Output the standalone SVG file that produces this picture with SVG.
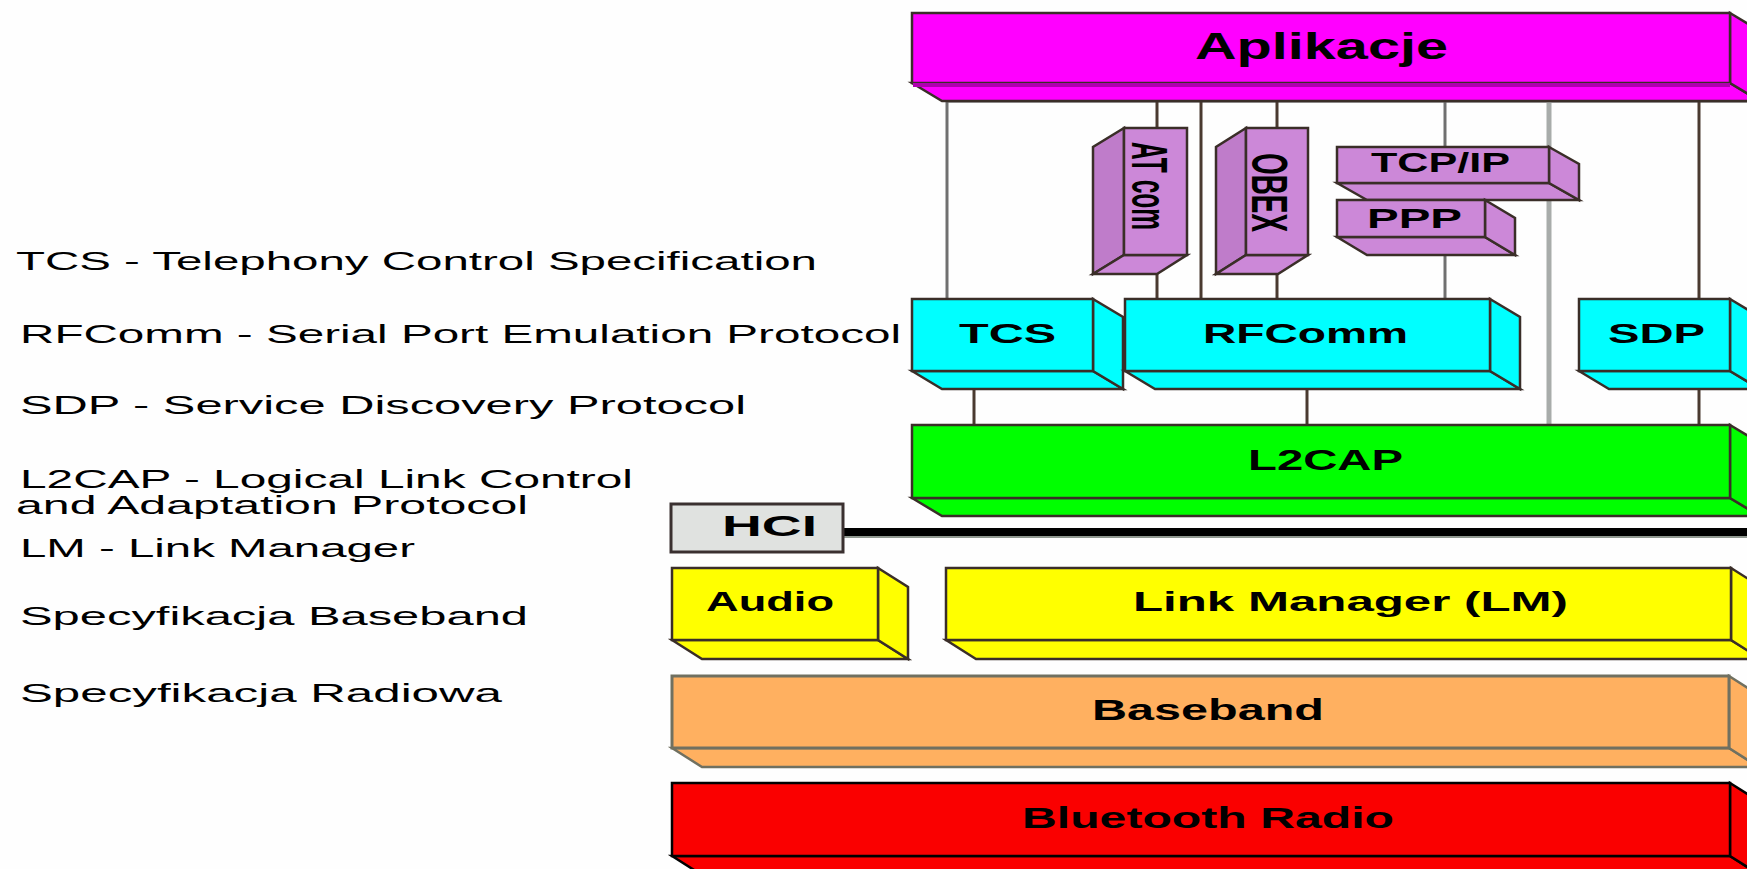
<svg xmlns="http://www.w3.org/2000/svg" width="1747" height="869" viewBox="0 0 1747 869">
<style>
.lbl{font-family:"Liberation Sans",Arial,sans-serif;font-weight:bold;fill:#000}
.leg{font-family:"Liberation Sans",Arial,sans-serif;font-size:25px;fill:#000}
.ln{stroke:#4a3a30;stroke-width:3;fill:none}
.lg{stroke:#707070;stroke-width:3;fill:none}
.edge{stroke:#3a2e28;stroke-width:2.5;stroke-linejoin:miter}
.mag{fill:#ff00ff}
.cya{fill:#00ffff}
.grn{fill:#00ff00}
.yel{fill:#ffff00}
.org{fill:#ffb060}
.red{fill:#fa0000}
.pur{fill:#cc88d8}
.purs{fill:#bf7cca}
</style>
<rect width="1747" height="869" fill="#fefefe"/>

<g id="legend">
<text class="leg" x="16" y="270" textLength="801" lengthAdjust="spacingAndGlyphs">TCS - Telephony Control Specification</text>
<text class="leg" x="20" y="343" textLength="881" lengthAdjust="spacingAndGlyphs">RFComm - Serial Port Emulation Protocol</text>
<text class="leg" x="20" y="414" textLength="726" lengthAdjust="spacingAndGlyphs">SDP - Service Discovery Protocol</text>
<text class="leg" x="20" y="488" textLength="613" lengthAdjust="spacingAndGlyphs">L2CAP - Logical Link Control</text>
<text class="leg" x="16" y="514" textLength="512" lengthAdjust="spacingAndGlyphs">and Adaptation Protocol</text>
<text class="leg" x="20" y="557" textLength="395" lengthAdjust="spacingAndGlyphs">LM - Link Manager</text>
<text class="leg" x="20" y="625" textLength="508" lengthAdjust="spacingAndGlyphs">Specyfikacja Baseband</text>
<text class="leg" x="20" y="702" textLength="482" lengthAdjust="spacingAndGlyphs">Specyfikacja Radiowa</text>
</g>

<g id="connectors">
<line x1="947" y1="102" x2="1747" y2="102" stroke="#a8a8a8" stroke-width="2"/>
<line class="lg" x1="947" y1="100" x2="947" y2="299"/>
<line class="ln" x1="1157" y1="100" x2="1157" y2="128"/>
<line class="ln" x1="1157" y1="274" x2="1157" y2="299"/>
<line class="ln" x1="1201" y1="100" x2="1201" y2="299"/>
<line class="ln" x1="1277" y1="100" x2="1277" y2="128"/>
<line class="ln" x1="1277" y1="274" x2="1277" y2="299"/>
<line class="lg" x1="1445" y1="100" x2="1445" y2="147"/>
<line class="lg" x1="1445" y1="255" x2="1445" y2="299"/>
<line x1="1549" y1="100" x2="1549" y2="425" stroke="#a8acaa" stroke-width="5"/>
<line class="ln" x1="1699" y1="100" x2="1699" y2="299"/>
<line class="ln" x1="974" y1="389" x2="974" y2="425"/>
<line class="ln" x1="1307" y1="389" x2="1307" y2="425"/>
<line class="ln" x1="1699" y1="389" x2="1699" y2="425"/>
<line x1="843" y1="537" x2="1747" y2="537" stroke="#909890" stroke-width="2"/>
<line x1="843" y1="532" x2="1747" y2="532" stroke="#000" stroke-width="8"/>
</g>

<g id="aplikacje">
<polygon class="mag edge" points="912,83 942,101 1760,101 1730,83"/>
<polygon class="mag edge" points="1730,13 1760,31 1760,101 1730,83"/>
<rect class="mag edge" x="912" y="13" width="818" height="70"/>
<line x1="913" y1="85" x2="1730" y2="85" stroke="#b000b0" stroke-width="4"/>
<text class="lbl" x="1195" y="59" font-size="36" textLength="253" lengthAdjust="spacingAndGlyphs">Aplikacje</text>
</g>

<g id="atcom">
<polygon class="purs edge" points="1124,128 1093,147 1093,274 1124,255"/>
<polygon class="pur edge" points="1124,255 1187,255 1157,274 1093,274"/>
<rect class="pur edge" x="1124" y="128" width="63" height="127"/>
<text class="lbl" font-size="25" transform="translate(1132,142) rotate(90) scale(1,2)" textLength="88" lengthAdjust="spacingAndGlyphs">AT com</text>
</g>

<g id="obex">
<polygon class="purs edge" points="1246,128 1216,147 1216,274 1246,255"/>
<polygon class="pur edge" points="1246,255 1308,255 1278,274 1216,274"/>
<rect class="pur edge" x="1246" y="128" width="62" height="127"/>
<text class="lbl" font-size="25" transform="translate(1252,153) rotate(90) scale(1,2)" textLength="79" lengthAdjust="spacingAndGlyphs">OBEX</text>
</g>

<g id="tcpip">
<polygon class="pur edge" points="1337,183 1367,200 1579,200 1549,183"/>
<polygon class="pur edge" points="1549,147 1579,164 1579,200 1549,183"/>
<rect class="pur edge" x="1337" y="147" width="212" height="36"/>
<text class="lbl" x="1371" y="172" font-size="28" textLength="139" lengthAdjust="spacingAndGlyphs">TCP/IP</text>
</g>

<g id="ppp">
<polygon class="pur edge" points="1337,237 1367,255 1515,255 1485,237"/>
<polygon class="pur edge" points="1485,200 1515,218 1515,255 1485,237"/>
<rect class="pur edge" x="1337" y="200" width="148" height="37"/>
<text class="lbl" x="1367" y="228" font-size="28" textLength="95" lengthAdjust="spacingAndGlyphs">PPP</text>
</g>

<g id="tcs">
<polygon class="cya edge" points="912,371 942,389 1123,389 1093,371"/>
<polygon class="cya edge" points="1093,299 1123,317 1123,389 1093,371"/>
<rect class="cya edge" x="912" y="299" width="181" height="72"/>
<text class="lbl" x="959" y="343" font-size="28" textLength="97" lengthAdjust="spacingAndGlyphs">TCS</text>
</g>

<g id="rfcomm">
<polygon class="cya edge" points="1125,371 1155,389 1520,389 1490,371"/>
<polygon class="cya edge" points="1490,299 1520,317 1520,389 1490,371"/>
<rect class="cya edge" x="1125" y="299" width="365" height="72"/>
<text class="lbl" x="1203" y="343" font-size="28" textLength="205" lengthAdjust="spacingAndGlyphs">RFComm</text>
</g>

<g id="sdp">
<polygon class="cya edge" points="1579,371 1609,389 1760,389 1730,371"/>
<polygon class="cya edge" points="1730,299 1760,317 1760,389 1730,371"/>
<rect class="cya edge" x="1579" y="299" width="151" height="72"/>
<text class="lbl" x="1608" y="343" font-size="28" textLength="97" lengthAdjust="spacingAndGlyphs">SDP</text>
</g>

<g id="l2cap">
<polygon class="grn edge" points="912,498 942,516 1760,516 1730,498"/>
<polygon class="grn edge" points="1730,425 1760,443 1760,516 1730,498"/>
<rect class="grn edge" x="912" y="425" width="818" height="73"/>
<text class="lbl" x="1248" y="470" font-size="29" textLength="155" lengthAdjust="spacingAndGlyphs">L2CAP</text>
</g>

<g id="hci">
<rect x="671" y="504" width="172" height="48" fill="#e0e2e0" stroke="#3a3030" stroke-width="3"/>
<text class="lbl" x="722" y="536" font-size="30" textLength="95" lengthAdjust="spacingAndGlyphs">HCI</text>
</g>

<g id="audio">
<polygon class="yel edge" points="672,640 702,659 908,659 878,640"/>
<polygon class="yel edge" points="878,568 908,587 908,659 878,640"/>
<rect class="yel edge" x="672" y="568" width="206" height="72"/>
<text class="lbl" x="706" y="611" font-size="28" textLength="128" lengthAdjust="spacingAndGlyphs">Audio</text>
</g>

<g id="lm">
<polygon class="yel edge" points="946,640 976,659 1761,659 1731,640"/>
<polygon class="yel edge" points="1731,568 1761,587 1761,659 1731,640"/>
<rect class="yel edge" x="946" y="568" width="785" height="72"/>
<text class="lbl" x="1133" y="611" font-size="28" textLength="435" lengthAdjust="spacingAndGlyphs">Link Manager (LM)</text>
</g>

<g id="baseband">
<polygon class="org" points="672,748 702,767 1759,767 1729,748" stroke="#707060" stroke-width="2.5"/>
<polygon class="org" points="1729,676 1759,695 1759,767 1729,748" stroke="#707060" stroke-width="2.5"/>
<rect class="org" x="672" y="676" width="1057" height="72" stroke="#707060" stroke-width="3"/>
<text class="lbl" x="1092" y="720" font-size="29" textLength="232" lengthAdjust="spacingAndGlyphs">Baseband</text>
</g>

<g id="radio">
<polygon class="red" points="672,856 702,875 1760,875 1730,856" stroke="#000" stroke-width="2.5"/>
<polygon class="red" points="1730,783 1760,802 1760,875 1730,856" stroke="#000" stroke-width="2.5"/>
<rect class="red" x="672" y="783" width="1058" height="73" stroke="#000" stroke-width="2.5"/>
<text class="lbl" x="1022" y="828" font-size="29" textLength="372" lengthAdjust="spacingAndGlyphs">Bluetooth Radio</text>
</g>
</svg>
